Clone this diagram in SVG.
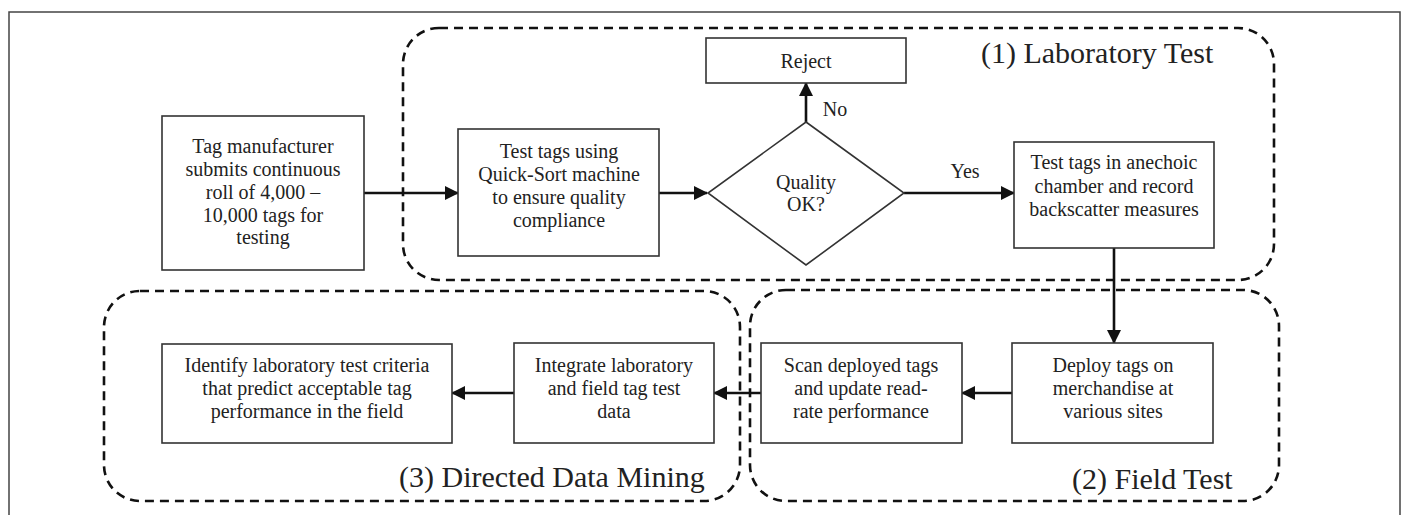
<svg xmlns="http://www.w3.org/2000/svg" width="1405" height="515" viewBox="0 0 1405 515">
<defs>
<style>
.frame{fill:none;stroke:#444;stroke-width:1.5}
.grp{fill:none;stroke:#111;stroke-width:2.6;stroke-dasharray:9 6}
.box{fill:#fff;stroke:#333;stroke-width:1.6}
.conn{fill:none;stroke:#111;stroke-width:2.6}
text{font-family:"Liberation Serif","Times New Roman",serif;fill:#222}
.t{font-size:20px;text-anchor:middle}
.title{font-size:30px}
</style>
<marker id="ah" markerUnits="userSpaceOnUse" markerWidth="14" markerHeight="14" viewBox="0 0 14 14" refX="13" refY="7" orient="auto">
<path d="M0,0 L14,7 L0,14 Z" fill="#111"/>
</marker>
</defs>
<rect width="1405" height="515" fill="#fff"/>
<rect class="frame" x="9" y="12" width="1391" height="520"/>

<g id="grp-lab">
<rect class="grp" x="403" y="28" width="871" height="252" rx="36" ry="36"/>
<text class="title" x="981" y="63">(1) Laboratory Test</text>
</g>
<g id="grp-field">
<rect class="grp" x="750" y="290" width="529" height="211" rx="36" ry="36"/>
<text class="title" x="1072" y="489">(2) Field Test</text>
</g>
<g id="grp-mining">
<rect class="grp" x="104" y="291" width="636" height="210" rx="36" ry="36"/>
<text class="title" x="399" y="487">(3) Directed Data Mining</text>
</g>

<g id="connectors">
<line class="conn" x1="364" y1="193" x2="458" y2="193" marker-end="url(#ah)"/>
<line class="conn" x1="659" y1="193" x2="707" y2="193" marker-end="url(#ah)"/>
<line class="conn" x1="806" y1="122" x2="806" y2="83" marker-end="url(#ah)"/>
<line class="conn" x1="904" y1="193" x2="1014" y2="193" marker-end="url(#ah)"/>
<line class="conn" x1="1114" y1="248" x2="1114" y2="343" marker-end="url(#ah)"/>
<line class="conn" x1="1012" y1="393" x2="962" y2="393" marker-end="url(#ah)"/>
<line class="conn" x1="761" y1="393" x2="714" y2="393" marker-end="url(#ah)"/>
<line class="conn" x1="514" y1="393" x2="452" y2="393" marker-end="url(#ah)"/>
<text class="t" x="835" y="116">No</text>
<text class="t" x="965" y="178">Yes</text>
</g>

<g id="n-manufacturer">
<rect class="box" x="162" y="116" width="202" height="154"/>
<text class="t" x="263" y="153">Tag manufacturer</text>
<text class="t" x="263" y="176">submits continuous</text>
<text class="t" x="263" y="199">roll of 4,000 –</text>
<text class="t" x="263" y="222">10,000 tags for</text>
<text class="t" x="263" y="244">testing</text>
</g>
<g id="n-quicksort">
<rect class="box" x="458" y="129" width="201" height="127"/>
<text class="t" x="559" y="158">Test tags using</text>
<text class="t" x="559" y="181">Quick-Sort machine</text>
<text class="t" x="559" y="204">to ensure quality</text>
<text class="t" x="559" y="227">compliance</text>
</g>
<g id="n-quality">
<polygon class="box" points="806,122 904,193 806,265 708,193"/>
<text class="t" x="806" y="189">Quality</text>
<text class="t" x="806" y="211">OK?</text>
</g>
<g id="n-reject">
<rect class="box" x="706" y="38" width="200" height="45"/>
<text class="t" x="806" y="68">Reject</text>
</g>
<g id="n-anechoic">
<rect class="box" x="1014" y="142" width="200" height="106"/>
<text class="t" x="1114" y="169">Test tags in anechoic</text>
<text class="t" x="1114" y="193">chamber and record</text>
<text class="t" x="1114" y="216">backscatter measures</text>
</g>
<g id="n-deploy">
<rect class="box" x="1012" y="343" width="201" height="100"/>
<text class="t" x="1113" y="372">Deploy tags on</text>
<text class="t" x="1113" y="395">merchandise at</text>
<text class="t" x="1113" y="418">various sites</text>
</g>
<g id="n-scan">
<rect class="box" x="761" y="343" width="201" height="100"/>
<text class="t" x="861" y="372">Scan deployed tags</text>
<text class="t" x="861" y="395">and update read-</text>
<text class="t" x="861" y="418">rate performance</text>
</g>
<g id="n-integrate">
<rect class="box" x="514" y="343" width="200" height="100"/>
<text class="t" x="614" y="372">Integrate laboratory</text>
<text class="t" x="614" y="395">and field tag test</text>
<text class="t" x="614" y="418">data</text>
</g>
<g id="n-identify">
<rect class="box" x="162" y="344" width="290" height="99"/>
<text class="t" x="307" y="372">Identify laboratory test criteria</text>
<text class="t" x="307" y="395">that predict acceptable tag</text>
<text class="t" x="307" y="418">performance in the field</text>
</g>
</svg>
